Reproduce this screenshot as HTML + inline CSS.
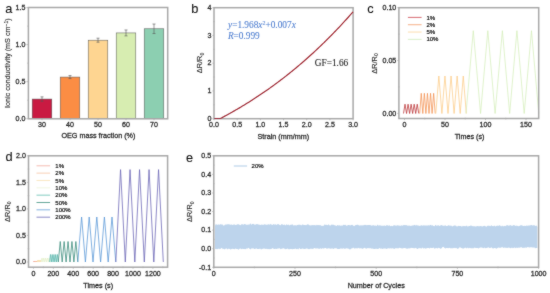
<!DOCTYPE html>
<html><head><meta charset="utf-8"><style>
html,body{margin:0;padding:0;background:#fff;width:550px;height:293px;overflow:hidden}
svg{display:block;will-change:transform}
</style></head><body>
<svg width="550" height="293" viewBox="0 0 550 293">
<defs><filter id="soft" filterUnits="userSpaceOnUse" x="0" y="0" width="550" height="293" color-interpolation-filters="sRGB"><feConvolveMatrix order="3" kernelMatrix="1 2 1 2 24 2 1 2 1" edgeMode="duplicate" preserveAlpha="true"/></filter></defs>
<g filter="url(#soft)">
<rect width="550" height="293" fill="#fff"/>
<text x="5.20" y="12.90" font-size="12.8" text-anchor="start" fill="#111" stroke="#111" stroke-width="0.08" font-family='"Liberation Sans", sans-serif' >a</text>
<text x="191.20" y="13.00" font-size="12.8" text-anchor="start" fill="#111" stroke="#111" stroke-width="0.08" font-family='"Liberation Sans", sans-serif' >b</text>
<text x="367.30" y="13.00" font-size="12.8" text-anchor="start" fill="#111" stroke="#111" stroke-width="0.08" font-family='"Liberation Sans", sans-serif' >c</text>
<text x="5.40" y="161.00" font-size="12.8" text-anchor="start" fill="#111" stroke="#111" stroke-width="0.08" font-family='"Liberation Sans", sans-serif' >d</text>
<text x="186.00" y="161.50" font-size="12.8" text-anchor="start" fill="#111" stroke="#111" stroke-width="0.08" font-family='"Liberation Sans", sans-serif' >e</text>
<rect x="32.20" y="99.07" width="19.60" height="19.63" fill="#C91A42" stroke="#555" stroke-width="0.5"/>
<line x1="42.00" y1="96.85" x2="42.00" y2="101.29" stroke="#555" stroke-width="0.6" />
<line x1="40.50" y1="96.85" x2="43.50" y2="96.85" stroke="#555" stroke-width="0.6" />
<line x1="40.50" y1="101.29" x2="43.50" y2="101.29" stroke="#555" stroke-width="0.6" />
<rect x="60.20" y="77.07" width="19.60" height="41.63" fill="#FB8D44" stroke="#555" stroke-width="0.5"/>
<line x1="70.00" y1="75.59" x2="70.00" y2="78.56" stroke="#555" stroke-width="0.6" />
<line x1="68.50" y1="75.59" x2="71.50" y2="75.59" stroke="#555" stroke-width="0.6" />
<line x1="68.50" y1="78.56" x2="71.50" y2="78.56" stroke="#555" stroke-width="0.6" />
<rect x="88.20" y="40.19" width="19.60" height="78.51" fill="#FED591" stroke="#555" stroke-width="0.5"/>
<line x1="98.00" y1="38.19" x2="98.00" y2="42.19" stroke="#555" stroke-width="0.6" />
<line x1="96.50" y1="38.19" x2="99.50" y2="38.19" stroke="#555" stroke-width="0.6" />
<line x1="96.50" y1="42.19" x2="99.50" y2="42.19" stroke="#555" stroke-width="0.6" />
<rect x="116.20" y="32.93" width="19.60" height="85.77" fill="#D7EDB1" stroke="#555" stroke-width="0.5"/>
<line x1="126.00" y1="29.97" x2="126.00" y2="35.89" stroke="#555" stroke-width="0.6" />
<line x1="124.50" y1="29.97" x2="127.50" y2="29.97" stroke="#555" stroke-width="0.6" />
<line x1="124.50" y1="35.89" x2="127.50" y2="35.89" stroke="#555" stroke-width="0.6" />
<rect x="144.20" y="28.78" width="19.60" height="89.92" fill="#8CCFB1" stroke="#555" stroke-width="0.5"/>
<line x1="154.00" y1="24.04" x2="154.00" y2="33.52" stroke="#555" stroke-width="0.6" />
<line x1="152.50" y1="24.04" x2="155.50" y2="24.04" stroke="#555" stroke-width="0.6" />
<line x1="152.50" y1="33.52" x2="155.50" y2="33.52" stroke="#555" stroke-width="0.6" />
<rect x="28.40" y="7.50" width="139.30" height="111.30" fill="none" stroke="#a8a8a8" stroke-width="1.5"/>
<line x1="26.40" y1="118.70" x2="28.00" y2="118.70" stroke="#a8a8a8" stroke-width="0.7" />
<text x="25.40" y="120.95" font-size="7.1" text-anchor="end" fill="#2c2c2c" stroke="#2c2c2c" stroke-width="0.28" font-family='"Liberation Sans", sans-serif' >0.0</text>
<line x1="26.40" y1="81.67" x2="28.00" y2="81.67" stroke="#a8a8a8" stroke-width="0.7" />
<text x="25.40" y="83.92" font-size="7.1" text-anchor="end" fill="#2c2c2c" stroke="#2c2c2c" stroke-width="0.28" font-family='"Liberation Sans", sans-serif' >0.5</text>
<line x1="26.40" y1="44.63" x2="28.00" y2="44.63" stroke="#a8a8a8" stroke-width="0.7" />
<text x="25.40" y="46.88" font-size="7.1" text-anchor="end" fill="#2c2c2c" stroke="#2c2c2c" stroke-width="0.28" font-family='"Liberation Sans", sans-serif' >1.0</text>
<line x1="26.40" y1="7.60" x2="28.00" y2="7.60" stroke="#a8a8a8" stroke-width="0.7" />
<text x="25.40" y="9.85" font-size="7.1" text-anchor="end" fill="#2c2c2c" stroke="#2c2c2c" stroke-width="0.28" font-family='"Liberation Sans", sans-serif' >1.5</text>
<line x1="27.20" y1="100.18" x2="28.80" y2="100.18" stroke="#a8a8a8" stroke-width="0.6" />
<line x1="27.20" y1="63.15" x2="28.80" y2="63.15" stroke="#a8a8a8" stroke-width="0.6" />
<line x1="27.20" y1="26.12" x2="28.80" y2="26.12" stroke="#a8a8a8" stroke-width="0.6" />
<line x1="42.00" y1="118.70" x2="42.00" y2="120.30" stroke="#a8a8a8" stroke-width="0.7" />
<text x="42.00" y="127.40" font-size="7.1" text-anchor="middle" fill="#2c2c2c" stroke="#2c2c2c" stroke-width="0.28" font-family='"Liberation Sans", sans-serif' >30</text>
<line x1="70.00" y1="118.70" x2="70.00" y2="120.30" stroke="#a8a8a8" stroke-width="0.7" />
<text x="70.00" y="127.40" font-size="7.1" text-anchor="middle" fill="#2c2c2c" stroke="#2c2c2c" stroke-width="0.28" font-family='"Liberation Sans", sans-serif' >40</text>
<line x1="98.00" y1="118.70" x2="98.00" y2="120.30" stroke="#a8a8a8" stroke-width="0.7" />
<text x="98.00" y="127.40" font-size="7.1" text-anchor="middle" fill="#2c2c2c" stroke="#2c2c2c" stroke-width="0.28" font-family='"Liberation Sans", sans-serif' >50</text>
<line x1="126.00" y1="118.70" x2="126.00" y2="120.30" stroke="#a8a8a8" stroke-width="0.7" />
<text x="126.00" y="127.40" font-size="7.1" text-anchor="middle" fill="#2c2c2c" stroke="#2c2c2c" stroke-width="0.28" font-family='"Liberation Sans", sans-serif' >60</text>
<line x1="154.00" y1="118.70" x2="154.00" y2="120.30" stroke="#a8a8a8" stroke-width="0.7" />
<text x="154.00" y="127.40" font-size="7.1" text-anchor="middle" fill="#2c2c2c" stroke="#2c2c2c" stroke-width="0.28" font-family='"Liberation Sans", sans-serif' >70</text>
<text x="98.40" y="138.20" font-size="7.2" text-anchor="middle" fill="#2c2c2c" stroke="#2c2c2c" stroke-width="0.28" font-family='"Liberation Sans", sans-serif' >OEG mass fraction (%)</text>
<text transform="translate(10.40,63.20) rotate(-90)" font-size="7.2" text-anchor="middle" fill="#2c2c2c" stroke="#2c2c2c" stroke-width="0.15" font-family='"Liberation Sans", sans-serif'>Ionic conductivity (mS cm<tspan dy="-2.6" font-size="5">−1</tspan><tspan dy="2.6">)</tspan></text>
<rect x="214.00" y="7.70" width="139.10" height="111.00" fill="none" stroke="#a8a8a8" stroke-width="1.5"/>
<polyline points="214.30,118.50 218.60,118.50 219.20,118.50 220.32,118.50 221.45,117.96 222.57,117.36 223.70,116.76 224.82,116.15 225.95,115.54 227.07,114.93 228.19,114.31 229.32,113.68 230.44,113.05 231.57,112.42 232.69,111.78 233.82,111.14 234.94,110.50 236.07,109.85 237.19,109.19 238.31,108.53 239.44,107.87 240.56,107.20 241.69,106.53 242.81,105.85 243.94,105.17 245.06,104.48 246.18,103.79 247.31,103.09 248.43,102.39 249.56,101.68 250.68,100.97 251.81,100.26 252.93,99.54 254.06,98.81 255.18,98.08 256.30,97.35 257.43,96.60 258.55,95.86 259.68,95.11 260.80,94.35 261.93,93.59 263.05,92.82 264.17,92.05 265.30,91.28 266.42,90.49 267.55,89.71 268.67,88.91 269.80,88.12 270.92,87.31 272.05,86.50 273.17,85.69 274.29,84.87 275.42,84.04 276.54,83.21 277.67,82.38 278.79,81.53 279.92,80.68 281.04,79.83 282.16,78.97 283.29,78.11 284.41,77.23 285.54,76.36 286.66,75.48 287.79,74.59 288.91,73.69 290.04,72.79 291.16,71.89 292.28,70.97 293.41,70.05 294.53,69.13 295.66,68.20 296.78,67.26 297.91,66.32 299.03,65.37 300.15,64.41 301.28,63.45 302.40,62.48 303.53,61.51 304.65,60.53 305.78,59.54 306.90,58.55 308.03,57.55 309.15,56.54 310.27,55.53 311.40,54.51 312.52,53.48 313.65,52.45 314.77,51.41 315.90,50.36 317.02,49.31 318.14,48.25 319.27,47.18 320.39,46.11 321.52,45.03 322.64,43.94 323.77,42.85 324.89,41.75 326.02,40.64 327.14,39.53 328.26,38.41 329.39,37.28 330.51,36.14 331.64,35.00 332.76,33.85 333.89,32.69 335.01,31.53 336.13,30.35 337.26,29.18 338.38,27.99 339.51,26.80 340.63,25.59 341.76,24.39 342.88,23.17 344.01,21.95 345.13,20.72 346.25,19.48 347.38,18.23 348.50,16.98 349.63,15.72 350.75,14.45 351.88,13.17 353.00,11.89" fill="none" stroke="#B02C2C" stroke-width="1.2" stroke-linejoin="round" />
<polyline points="214.30,118.50 218.60,118.50 219.20,118.50 220.32,118.50 221.45,117.96 222.57,117.36 223.70,116.76 224.82,116.15 225.95,115.54 227.07,114.93 228.19,114.31 229.32,113.68 230.44,113.05 231.57,112.42 232.69,111.78 233.82,111.14 234.94,110.50 236.07,109.85 237.19,109.19 238.31,108.53 239.44,107.87 240.56,107.20 241.69,106.53 242.81,105.85 243.94,105.17 245.06,104.48 246.18,103.79 247.31,103.09 248.43,102.39 249.56,101.68 250.68,100.97 251.81,100.26 252.93,99.54 254.06,98.81 255.18,98.08 256.30,97.35 257.43,96.60 258.55,95.86 259.68,95.11 260.80,94.35 261.93,93.59 263.05,92.82 264.17,92.05 265.30,91.28 266.42,90.49 267.55,89.71 268.67,88.91 269.80,88.12 270.92,87.31 272.05,86.50 273.17,85.69 274.29,84.87 275.42,84.04 276.54,83.21 277.67,82.38 278.79,81.53 279.92,80.68 281.04,79.83 282.16,78.97 283.29,78.11 284.41,77.23 285.54,76.36 286.66,75.48 287.79,74.59 288.91,73.69 290.04,72.79 291.16,71.89 292.28,70.97 293.41,70.05 294.53,69.13 295.66,68.20 296.78,67.26 297.91,66.32 299.03,65.37 300.15,64.41 301.28,63.45 302.40,62.48 303.53,61.51 304.65,60.53 305.78,59.54 306.90,58.55 308.03,57.55 309.15,56.54 310.27,55.53 311.40,54.51 312.52,53.48 313.65,52.45 314.77,51.41 315.90,50.36 317.02,49.31 318.14,48.25 319.27,47.18 320.39,46.11 321.52,45.03 322.64,43.94 323.77,42.85 324.89,41.75 326.02,40.64 327.14,39.53 328.26,38.41 329.39,37.28 330.51,36.14 331.64,35.00 332.76,33.85 333.89,32.69 335.01,31.53 336.13,30.35 337.26,29.18 338.38,27.99 339.51,26.80 340.63,25.59 341.76,24.39 342.88,23.17 344.01,21.95 345.13,20.72 346.25,19.48 347.38,18.23 348.50,16.98 349.63,15.72 350.75,14.45 351.88,13.17 353.00,11.89" fill="none" stroke="#3C3C90" stroke-width="0.6" stroke-linejoin="round" stroke-dasharray="0.9 1.6" opacity="0.85"/>
<line x1="212.40" y1="118.70" x2="214.00" y2="118.70" stroke="#a8a8a8" stroke-width="0.7" />
<text x="211.40" y="120.95" font-size="7.1" text-anchor="end" fill="#2c2c2c" stroke="#2c2c2c" stroke-width="0.28" font-family='"Liberation Sans", sans-serif' >0</text>
<line x1="212.40" y1="90.95" x2="214.00" y2="90.95" stroke="#a8a8a8" stroke-width="0.7" />
<text x="211.40" y="93.20" font-size="7.1" text-anchor="end" fill="#2c2c2c" stroke="#2c2c2c" stroke-width="0.28" font-family='"Liberation Sans", sans-serif' >1</text>
<line x1="212.40" y1="63.20" x2="214.00" y2="63.20" stroke="#a8a8a8" stroke-width="0.7" />
<text x="211.40" y="65.45" font-size="7.1" text-anchor="end" fill="#2c2c2c" stroke="#2c2c2c" stroke-width="0.28" font-family='"Liberation Sans", sans-serif' >2</text>
<line x1="212.40" y1="35.45" x2="214.00" y2="35.45" stroke="#a8a8a8" stroke-width="0.7" />
<text x="211.40" y="37.70" font-size="7.1" text-anchor="end" fill="#2c2c2c" stroke="#2c2c2c" stroke-width="0.28" font-family='"Liberation Sans", sans-serif' >3</text>
<line x1="212.40" y1="7.70" x2="214.00" y2="7.70" stroke="#a8a8a8" stroke-width="0.7" />
<text x="211.40" y="9.95" font-size="7.1" text-anchor="end" fill="#2c2c2c" stroke="#2c2c2c" stroke-width="0.28" font-family='"Liberation Sans", sans-serif' >4</text>
<line x1="213.20" y1="104.83" x2="214.80" y2="104.83" stroke="#a8a8a8" stroke-width="0.6" />
<line x1="213.20" y1="77.08" x2="214.80" y2="77.08" stroke="#a8a8a8" stroke-width="0.6" />
<line x1="213.20" y1="49.33" x2="214.80" y2="49.33" stroke="#a8a8a8" stroke-width="0.6" />
<line x1="213.20" y1="21.58" x2="214.80" y2="21.58" stroke="#a8a8a8" stroke-width="0.6" />
<line x1="214.00" y1="118.70" x2="214.00" y2="120.30" stroke="#a8a8a8" stroke-width="0.7" />
<text x="214.00" y="127.40" font-size="7.1" text-anchor="middle" fill="#2c2c2c" stroke="#2c2c2c" stroke-width="0.28" font-family='"Liberation Sans", sans-serif' >0.0</text>
<line x1="237.18" y1="118.70" x2="237.18" y2="120.30" stroke="#a8a8a8" stroke-width="0.7" />
<text x="237.18" y="127.40" font-size="7.1" text-anchor="middle" fill="#2c2c2c" stroke="#2c2c2c" stroke-width="0.28" font-family='"Liberation Sans", sans-serif' >0.5</text>
<line x1="260.37" y1="118.70" x2="260.37" y2="120.30" stroke="#a8a8a8" stroke-width="0.7" />
<text x="260.37" y="127.40" font-size="7.1" text-anchor="middle" fill="#2c2c2c" stroke="#2c2c2c" stroke-width="0.28" font-family='"Liberation Sans", sans-serif' >1.0</text>
<line x1="283.55" y1="118.70" x2="283.55" y2="120.30" stroke="#a8a8a8" stroke-width="0.7" />
<text x="283.55" y="127.40" font-size="7.1" text-anchor="middle" fill="#2c2c2c" stroke="#2c2c2c" stroke-width="0.28" font-family='"Liberation Sans", sans-serif' >1.5</text>
<line x1="306.73" y1="118.70" x2="306.73" y2="120.30" stroke="#a8a8a8" stroke-width="0.7" />
<text x="306.73" y="127.40" font-size="7.1" text-anchor="middle" fill="#2c2c2c" stroke="#2c2c2c" stroke-width="0.28" font-family='"Liberation Sans", sans-serif' >2.0</text>
<line x1="329.92" y1="118.70" x2="329.92" y2="120.30" stroke="#a8a8a8" stroke-width="0.7" />
<text x="329.92" y="127.40" font-size="7.1" text-anchor="middle" fill="#2c2c2c" stroke="#2c2c2c" stroke-width="0.28" font-family='"Liberation Sans", sans-serif' >2.5</text>
<line x1="353.10" y1="118.70" x2="353.10" y2="120.30" stroke="#a8a8a8" stroke-width="0.7" />
<text x="353.10" y="127.40" font-size="7.1" text-anchor="middle" fill="#2c2c2c" stroke="#2c2c2c" stroke-width="0.28" font-family='"Liberation Sans", sans-serif' >3.0</text>
<text x="283.30" y="138.60" font-size="7.2" text-anchor="middle" fill="#2c2c2c" stroke="#2c2c2c" stroke-width="0.28" font-family='"Liberation Sans", sans-serif' >Strain (mm/mm)</text>
<text transform="translate(202.20,63.00) rotate(-90)" font-size="7.4" text-anchor="middle" fill="#2c2c2c" stroke="#2c2c2c" stroke-width="0.15" font-family='"Liberation Sans", sans-serif'>ΔR/R<tspan dy="1.6" font-size="5">0</tspan></text>
<text x="228.00" y="28.00" font-size="9.3" text-anchor="start" fill="#4F7FD0" stroke="#4F7FD0" stroke-width="0.08" font-family='"Liberation Serif", serif' ><tspan font-style="italic">y</tspan>=1.968<tspan font-style="italic">x</tspan><tspan dy="-3.4" font-size="6">2</tspan><tspan dy="3.4">+0.007</tspan><tspan font-style="italic">x</tspan></text>
<text x="227.90" y="38.60" font-size="9.3" text-anchor="start" fill="#4F7FD0" stroke="#4F7FD0" stroke-width="0.08" font-family='"Liberation Serif", serif' ><tspan font-style="italic">R</tspan>=0.999</text>
<text x="314.80" y="66.30" font-size="9.3" text-anchor="start" fill="#1a1a1a" stroke="#1a1a1a" stroke-width="0.08" font-family='"Liberation Serif", serif' >GF=1.66</text>
<polyline points="403.50,113.50 405.02,104.20 406.55,113.50 408.07,104.20 409.60,113.50 411.12,104.20 412.65,113.50 414.18,104.20 415.70,113.50 417.23,104.20 418.75,113.50" fill="none" stroke="#BC3A3C" stroke-width="0.8" stroke-linejoin="round" />
<polyline points="419.70,113.50 421.25,93.30 422.80,113.50 424.35,93.30 425.90,113.50 427.45,93.30 429.00,113.50 430.55,93.30 432.10,113.50 433.65,93.30 435.20,113.50" fill="none" stroke="#F39050" stroke-width="0.75" stroke-linejoin="round" />
<polyline points="435.80,113.50 438.85,76.00 441.90,113.50 444.95,76.00 448.00,113.50 451.05,76.00 454.10,113.50 457.15,76.00 460.20,113.50 463.25,76.00 466.30,113.50" fill="none" stroke="#FCCB86" stroke-width="0.75" stroke-linejoin="round" />
<polyline points="466.00,113.50 473.27,30.70 480.55,113.50 487.82,30.70 495.10,113.50 502.38,30.70 509.65,113.50 516.92,30.70 524.20,113.50 531.48,30.70 538.75,113.50" fill="none" stroke="#D4EDBA" stroke-width="0.75" stroke-linejoin="round" />
<rect x="398.90" y="7.70" width="139.80" height="110.80" fill="none" stroke="#a8a8a8" stroke-width="1.5"/>
<line x1="397.30" y1="113.40" x2="398.90" y2="113.40" stroke="#a8a8a8" stroke-width="0.7" />
<text x="396.30" y="115.65" font-size="7.1" text-anchor="end" fill="#2c2c2c" stroke="#2c2c2c" stroke-width="0.28" font-family='"Liberation Sans", sans-serif' >0.00</text>
<line x1="397.30" y1="60.55" x2="398.90" y2="60.55" stroke="#a8a8a8" stroke-width="0.7" />
<text x="396.30" y="62.80" font-size="7.1" text-anchor="end" fill="#2c2c2c" stroke="#2c2c2c" stroke-width="0.28" font-family='"Liberation Sans", sans-serif' >0.05</text>
<line x1="397.30" y1="7.70" x2="398.90" y2="7.70" stroke="#a8a8a8" stroke-width="0.7" />
<text x="396.30" y="9.95" font-size="7.1" text-anchor="end" fill="#2c2c2c" stroke="#2c2c2c" stroke-width="0.28" font-family='"Liberation Sans", sans-serif' >0.10</text>
<line x1="398.10" y1="86.98" x2="399.70" y2="86.98" stroke="#a8a8a8" stroke-width="0.6" />
<line x1="398.10" y1="34.13" x2="399.70" y2="34.13" stroke="#a8a8a8" stroke-width="0.6" />
<line x1="404.50" y1="118.50" x2="404.50" y2="120.10" stroke="#a8a8a8" stroke-width="0.7" />
<text x="404.50" y="127.20" font-size="7.1" text-anchor="middle" fill="#2c2c2c" stroke="#2c2c2c" stroke-width="0.28" font-family='"Liberation Sans", sans-serif' >0</text>
<line x1="445.00" y1="118.50" x2="445.00" y2="120.10" stroke="#a8a8a8" stroke-width="0.7" />
<text x="445.00" y="127.20" font-size="7.1" text-anchor="middle" fill="#2c2c2c" stroke="#2c2c2c" stroke-width="0.28" font-family='"Liberation Sans", sans-serif' >50</text>
<line x1="485.50" y1="118.50" x2="485.50" y2="120.10" stroke="#a8a8a8" stroke-width="0.7" />
<text x="485.50" y="127.20" font-size="7.1" text-anchor="middle" fill="#2c2c2c" stroke="#2c2c2c" stroke-width="0.28" font-family='"Liberation Sans", sans-serif' >100</text>
<line x1="526.00" y1="118.50" x2="526.00" y2="120.10" stroke="#a8a8a8" stroke-width="0.7" />
<text x="526.00" y="127.20" font-size="7.1" text-anchor="middle" fill="#2c2c2c" stroke="#2c2c2c" stroke-width="0.28" font-family='"Liberation Sans", sans-serif' >150</text>
<line x1="424.75" y1="117.70" x2="424.75" y2="119.50" stroke="#a8a8a8" stroke-width="0.6" />
<line x1="465.25" y1="117.70" x2="465.25" y2="119.50" stroke="#a8a8a8" stroke-width="0.6" />
<line x1="505.75" y1="117.70" x2="505.75" y2="119.50" stroke="#a8a8a8" stroke-width="0.6" />
<text x="469.60" y="138.60" font-size="7.2" text-anchor="middle" fill="#2c2c2c" stroke="#2c2c2c" stroke-width="0.28" font-family='"Liberation Sans", sans-serif' >Times (s)</text>
<text transform="translate(376.60,63.50) rotate(-90)" font-size="7.4" text-anchor="middle" fill="#2c2c2c" stroke="#2c2c2c" stroke-width="0.15" font-family='"Liberation Sans", sans-serif'>ΔR/R<tspan dy="1.6" font-size="5">0</tspan></text>
<line x1="407.90" y1="17.40" x2="421.60" y2="17.40" stroke="#D05058" stroke-width="0.85" />
<text x="426.40" y="19.50" font-size="6.0" text-anchor="start" fill="#111" stroke="#111" stroke-width="0.2" font-family='"Liberation Sans", sans-serif' >1%</text>
<line x1="407.90" y1="24.73" x2="421.60" y2="24.73" stroke="#F4A070" stroke-width="0.85" />
<text x="426.40" y="26.83" font-size="6.0" text-anchor="start" fill="#111" stroke="#111" stroke-width="0.2" font-family='"Liberation Sans", sans-serif' >2%</text>
<line x1="407.90" y1="32.06" x2="421.60" y2="32.06" stroke="#FCD8A0" stroke-width="0.85" />
<text x="426.40" y="34.16" font-size="6.0" text-anchor="start" fill="#111" stroke="#111" stroke-width="0.2" font-family='"Liberation Sans", sans-serif' >5%</text>
<line x1="407.90" y1="39.39" x2="421.60" y2="39.39" stroke="#D2ECC0" stroke-width="0.85" />
<text x="426.40" y="41.49" font-size="6.0" text-anchor="start" fill="#111" stroke="#111" stroke-width="0.2" font-family='"Liberation Sans", sans-serif' >10%</text>
<polyline points="33.40,262.00 33.60,261.60 33.80,262.00 34.00,261.60 34.20,262.00 34.40,261.60 34.60,262.00 34.80,261.60 35.00,262.00 35.20,261.60 35.40,262.00" fill="none" stroke="#F0A090" stroke-width="0.8" stroke-linejoin="round" />
<polyline points="35.40,262.00 35.60,261.00 35.80,262.00 36.00,261.00 36.20,262.00 36.40,261.00 36.60,262.00 36.80,261.00 37.00,262.00 37.20,261.00 37.40,262.00" fill="none" stroke="#F6BE9C" stroke-width="0.8" stroke-linejoin="round" />
<polyline points="37.40,262.00 37.77,260.20 38.14,262.00 38.51,260.20 38.88,262.00 39.25,260.20 39.62,262.00 39.99,260.20 40.36,262.00 40.73,260.20 41.10,262.00" fill="none" stroke="#F8DEB0" stroke-width="0.8" stroke-linejoin="round" />
<polyline points="41.10,262.00 42.00,258.00 42.90,262.00 43.80,258.00 44.70,262.00 45.60,258.00 46.50,262.00 47.40,258.00 48.30,262.00 49.20,258.00 50.10,262.00" fill="none" stroke="#E4F0CC" stroke-width="0.8" stroke-linejoin="round" />
<polyline points="49.60,262.00 50.47,254.50 51.34,262.00 52.21,254.50 53.08,262.00 53.95,254.50 54.82,262.00 55.69,254.50 56.56,262.00 57.43,254.50 58.30,262.00" fill="none" stroke="#5FBAB0" stroke-width="0.8" stroke-linejoin="round" />
<polyline points="58.30,262.00 60.25,241.50 62.20,262.00 64.15,241.50 66.10,262.00 68.05,241.50 70.00,262.00 71.95,241.50 73.90,262.00 75.85,241.50 77.80,262.00" fill="none" stroke="#3E8E7E" stroke-width="0.8" stroke-linejoin="round" />
<polyline points="77.80,262.00 81.60,217.00 85.40,262.00 89.20,217.00 93.00,262.00 96.80,217.00 100.60,262.00 104.40,217.00 108.20,262.00 112.00,217.00 115.80,262.00" fill="none" stroke="#5E9AD8" stroke-width="0.8" stroke-linejoin="round" />
<polyline points="115.80,262.00 120.55,169.60 125.30,262.00 130.05,169.60 134.80,262.00 139.55,169.60 144.30,262.00 149.05,169.60 153.80,262.00 158.55,169.60 163.30,262.00" fill="none" stroke="#6E6AB8" stroke-width="0.8" stroke-linejoin="round" />
<rect x="28.50" y="155.80" width="139.10" height="111.40" fill="none" stroke="#a8a8a8" stroke-width="1.5"/>
<line x1="26.90" y1="262.00" x2="28.50" y2="262.00" stroke="#a8a8a8" stroke-width="0.7" />
<text x="25.90" y="264.25" font-size="7.1" text-anchor="end" fill="#2c2c2c" stroke="#2c2c2c" stroke-width="0.28" font-family='"Liberation Sans", sans-serif' >0.0</text>
<line x1="26.90" y1="235.45" x2="28.50" y2="235.45" stroke="#a8a8a8" stroke-width="0.7" />
<text x="25.90" y="237.70" font-size="7.1" text-anchor="end" fill="#2c2c2c" stroke="#2c2c2c" stroke-width="0.28" font-family='"Liberation Sans", sans-serif' >0.5</text>
<line x1="26.90" y1="208.90" x2="28.50" y2="208.90" stroke="#a8a8a8" stroke-width="0.7" />
<text x="25.90" y="211.15" font-size="7.1" text-anchor="end" fill="#2c2c2c" stroke="#2c2c2c" stroke-width="0.28" font-family='"Liberation Sans", sans-serif' >1.0</text>
<line x1="26.90" y1="182.35" x2="28.50" y2="182.35" stroke="#a8a8a8" stroke-width="0.7" />
<text x="25.90" y="184.60" font-size="7.1" text-anchor="end" fill="#2c2c2c" stroke="#2c2c2c" stroke-width="0.28" font-family='"Liberation Sans", sans-serif' >1.5</text>
<line x1="26.90" y1="155.80" x2="28.50" y2="155.80" stroke="#a8a8a8" stroke-width="0.7" />
<text x="25.90" y="158.05" font-size="7.1" text-anchor="end" fill="#2c2c2c" stroke="#2c2c2c" stroke-width="0.28" font-family='"Liberation Sans", sans-serif' >2.0</text>
<line x1="27.70" y1="248.72" x2="29.30" y2="248.72" stroke="#a8a8a8" stroke-width="0.6" />
<line x1="27.70" y1="222.18" x2="29.30" y2="222.18" stroke="#a8a8a8" stroke-width="0.6" />
<line x1="27.70" y1="195.62" x2="29.30" y2="195.62" stroke="#a8a8a8" stroke-width="0.6" />
<line x1="27.70" y1="169.08" x2="29.30" y2="169.08" stroke="#a8a8a8" stroke-width="0.6" />
<line x1="33.40" y1="267.20" x2="33.40" y2="268.80" stroke="#a8a8a8" stroke-width="0.7" />
<text x="33.40" y="275.90" font-size="7.1" text-anchor="middle" fill="#2c2c2c" stroke="#2c2c2c" stroke-width="0.28" font-family='"Liberation Sans", sans-serif' >0</text>
<line x1="53.32" y1="267.20" x2="53.32" y2="268.80" stroke="#a8a8a8" stroke-width="0.7" />
<text x="53.32" y="275.90" font-size="7.1" text-anchor="middle" fill="#2c2c2c" stroke="#2c2c2c" stroke-width="0.28" font-family='"Liberation Sans", sans-serif' >200</text>
<line x1="73.24" y1="267.20" x2="73.24" y2="268.80" stroke="#a8a8a8" stroke-width="0.7" />
<text x="73.24" y="275.90" font-size="7.1" text-anchor="middle" fill="#2c2c2c" stroke="#2c2c2c" stroke-width="0.28" font-family='"Liberation Sans", sans-serif' >400</text>
<line x1="93.16" y1="267.20" x2="93.16" y2="268.80" stroke="#a8a8a8" stroke-width="0.7" />
<text x="93.16" y="275.90" font-size="7.1" text-anchor="middle" fill="#2c2c2c" stroke="#2c2c2c" stroke-width="0.28" font-family='"Liberation Sans", sans-serif' >600</text>
<line x1="113.08" y1="267.20" x2="113.08" y2="268.80" stroke="#a8a8a8" stroke-width="0.7" />
<text x="113.08" y="275.90" font-size="7.1" text-anchor="middle" fill="#2c2c2c" stroke="#2c2c2c" stroke-width="0.28" font-family='"Liberation Sans", sans-serif' >800</text>
<line x1="133.00" y1="267.20" x2="133.00" y2="268.80" stroke="#a8a8a8" stroke-width="0.7" />
<text x="133.00" y="275.90" font-size="7.1" text-anchor="middle" fill="#2c2c2c" stroke="#2c2c2c" stroke-width="0.28" font-family='"Liberation Sans", sans-serif' >1000</text>
<line x1="152.92" y1="267.20" x2="152.92" y2="268.80" stroke="#a8a8a8" stroke-width="0.7" />
<text x="152.92" y="275.90" font-size="7.1" text-anchor="middle" fill="#2c2c2c" stroke="#2c2c2c" stroke-width="0.28" font-family='"Liberation Sans", sans-serif' >1200</text>
<line x1="43.36" y1="266.40" x2="43.36" y2="268.20" stroke="#a8a8a8" stroke-width="0.6" />
<line x1="63.28" y1="266.40" x2="63.28" y2="268.20" stroke="#a8a8a8" stroke-width="0.6" />
<line x1="83.20" y1="266.40" x2="83.20" y2="268.20" stroke="#a8a8a8" stroke-width="0.6" />
<line x1="103.12" y1="266.40" x2="103.12" y2="268.20" stroke="#a8a8a8" stroke-width="0.6" />
<line x1="123.04" y1="266.40" x2="123.04" y2="268.20" stroke="#a8a8a8" stroke-width="0.6" />
<line x1="142.96" y1="266.40" x2="142.96" y2="268.20" stroke="#a8a8a8" stroke-width="0.6" />
<line x1="162.88" y1="266.40" x2="162.88" y2="268.20" stroke="#a8a8a8" stroke-width="0.6" />
<text x="98.20" y="287.50" font-size="7.2" text-anchor="middle" fill="#2c2c2c" stroke="#2c2c2c" stroke-width="0.28" font-family='"Liberation Sans", sans-serif' >Times (s)</text>
<text transform="translate(9.60,211.70) rotate(-90)" font-size="7.4" text-anchor="middle" fill="#2c2c2c" stroke="#2c2c2c" stroke-width="0.15" font-family='"Liberation Sans", sans-serif'>ΔR/R<tspan dy="1.6" font-size="5">0</tspan></text>
<line x1="36.50" y1="165.80" x2="50.10" y2="165.80" stroke="#F2B0A4" stroke-width="0.85" />
<text x="55.30" y="167.90" font-size="6.0" text-anchor="start" fill="#111" stroke="#111" stroke-width="0.2" font-family='"Liberation Sans", sans-serif' >1%</text>
<line x1="36.50" y1="173.14" x2="50.10" y2="173.14" stroke="#F7C8A8" stroke-width="0.85" />
<text x="55.30" y="175.24" font-size="6.0" text-anchor="start" fill="#111" stroke="#111" stroke-width="0.2" font-family='"Liberation Sans", sans-serif' >2%</text>
<line x1="36.50" y1="180.48" x2="50.10" y2="180.48" stroke="#F9E4B8" stroke-width="0.85" />
<text x="55.30" y="182.58" font-size="6.0" text-anchor="start" fill="#111" stroke="#111" stroke-width="0.2" font-family='"Liberation Sans", sans-serif' >5%</text>
<line x1="36.50" y1="187.82" x2="50.10" y2="187.82" stroke="#EDF4DA" stroke-width="0.85" />
<text x="55.30" y="189.92" font-size="6.0" text-anchor="start" fill="#111" stroke="#111" stroke-width="0.2" font-family='"Liberation Sans", sans-serif' >10%</text>
<line x1="36.50" y1="195.16" x2="50.10" y2="195.16" stroke="#6CC2B6" stroke-width="0.85" />
<text x="55.30" y="197.26" font-size="6.0" text-anchor="start" fill="#111" stroke="#111" stroke-width="0.2" font-family='"Liberation Sans", sans-serif' >20%</text>
<line x1="36.50" y1="202.50" x2="50.10" y2="202.50" stroke="#4A9888" stroke-width="0.85" />
<text x="55.30" y="204.60" font-size="6.0" text-anchor="start" fill="#111" stroke="#111" stroke-width="0.2" font-family='"Liberation Sans", sans-serif' >50%</text>
<line x1="36.50" y1="209.84" x2="50.10" y2="209.84" stroke="#6EA4DC" stroke-width="0.85" />
<text x="55.30" y="211.94" font-size="6.0" text-anchor="start" fill="#111" stroke="#111" stroke-width="0.2" font-family='"Liberation Sans", sans-serif' >100%</text>
<line x1="36.50" y1="217.18" x2="50.10" y2="217.18" stroke="#7474BC" stroke-width="0.85" />
<text x="55.30" y="219.28" font-size="6.0" text-anchor="start" fill="#111" stroke="#111" stroke-width="0.2" font-family='"Liberation Sans", sans-serif' >200%</text>
<polygon points="215.00,225.70 215.98,223.84 216.96,225.01 217.94,224.60 218.92,224.62 219.90,224.70 220.88,223.96 221.86,224.66 222.84,224.38 223.82,226.04 224.80,224.78 225.78,224.53 226.76,224.54 227.74,224.37 228.72,224.19 229.70,224.44 230.68,224.77 231.66,224.46 232.64,224.92 233.62,224.44 234.60,224.51 235.58,225.10 236.56,224.68 237.54,224.25 238.52,224.36 239.50,224.63 240.48,225.18 241.46,224.30 242.44,224.31 243.42,224.82 244.40,224.07 245.38,224.31 246.36,224.78 247.34,224.67 248.32,224.48 249.30,224.71 250.28,223.32 251.26,224.86 252.24,224.08 253.22,223.80 254.20,224.58 255.18,224.76 256.16,224.30 257.14,224.06 258.12,224.50 259.10,224.47 260.08,225.06 261.06,224.81 262.04,224.60 263.02,224.98 264.00,224.47 264.98,224.19 265.96,224.81 266.94,224.82 267.92,224.51 268.90,224.30 269.88,224.72 270.86,223.64 271.84,224.92 272.82,224.86 273.80,224.02 274.78,224.71 275.76,224.31 276.74,225.01 277.72,223.91 278.70,224.37 279.68,225.03 280.66,225.22 281.64,223.91 282.62,224.58 283.60,224.93 284.58,224.56 285.56,225.46 286.54,224.36 287.52,224.99 288.50,224.44 289.48,225.43 290.46,224.87 291.44,224.74 292.42,224.22 293.40,225.59 294.38,225.23 295.36,225.24 296.33,225.41 297.31,225.11 298.29,224.72 299.27,224.67 300.25,224.68 301.23,225.55 302.21,224.43 303.19,224.77 304.17,224.89 305.15,225.11 306.13,225.26 307.11,224.53 308.09,224.34 309.07,225.04 310.05,225.53 311.03,225.35 312.01,225.14 312.99,224.93 313.97,225.18 314.95,224.96 315.93,225.39 316.91,224.75 317.89,225.13 318.87,225.03 319.85,225.30 320.83,225.18 321.81,226.11 322.79,225.69 323.77,225.70 324.75,224.29 325.73,224.97 326.71,224.87 327.69,225.33 328.67,224.21 329.65,225.59 330.63,225.55 331.61,224.61 332.59,224.74 333.57,224.82 334.55,225.16 335.53,225.40 336.51,225.97 337.49,225.08 338.47,225.47 339.45,225.23 340.43,225.87 341.41,225.47 342.39,225.72 343.37,224.75 344.35,225.11 345.33,224.86 346.31,225.79 347.29,225.46 348.27,225.08 349.25,225.02 350.23,225.40 351.21,224.93 352.19,224.85 353.17,225.41 354.15,226.21 355.13,225.13 356.11,225.01 357.09,224.77 358.07,224.71 359.05,225.46 360.03,225.59 361.01,225.26 361.99,225.39 362.97,225.31 363.95,225.32 364.93,224.66 365.91,225.09 366.89,225.32 367.87,224.97 368.85,225.10 369.83,224.96 370.81,225.16 371.79,225.64 372.77,225.14 373.75,225.25 374.73,225.64 375.71,225.57 376.69,226.00 377.67,224.49 378.65,225.67 379.63,225.14 380.61,225.39 381.59,225.68 382.57,225.78 383.55,225.76 384.53,225.41 385.51,226.00 386.49,225.25 387.47,225.31 388.45,225.69 389.43,225.15 390.41,226.24 391.39,225.79 392.37,226.26 393.35,225.38 394.33,225.24 395.31,225.46 396.29,225.70 397.27,225.17 398.25,225.56 399.23,225.41 400.21,226.06 401.19,225.16 402.17,225.84 403.15,225.17 404.13,225.05 405.11,225.15 406.09,224.97 407.07,225.50 408.05,225.86 409.03,225.52 410.01,225.71 410.99,226.12 411.97,225.57 412.95,225.55 413.93,225.36 414.91,224.84 415.89,225.79 416.87,224.78 417.85,225.75 418.83,225.49 419.81,225.95 420.79,225.48 421.77,225.19 422.75,225.67 423.73,225.31 424.71,225.47 425.69,225.57 426.67,225.51 427.65,225.50 428.63,225.25 429.61,225.52 430.59,224.75 431.57,225.55 432.55,225.15 433.53,226.08 434.51,226.15 435.49,224.87 436.47,225.72 437.45,225.62 438.43,225.27 439.41,225.91 440.39,225.52 441.37,225.01 442.35,225.62 443.33,225.67 444.31,225.79 445.29,225.26 446.27,226.01 447.25,226.07 448.23,225.32 449.21,225.53 450.19,225.77 451.17,225.59 452.15,226.52 453.13,225.91 454.11,225.44 455.09,225.54 456.07,225.84 457.04,226.79 458.02,225.81 459.00,225.94 459.98,226.11 460.96,225.89 461.94,226.83 462.92,225.72 463.90,226.24 464.88,226.01 465.86,226.21 466.84,225.50 467.82,226.69 468.80,225.94 469.78,226.01 470.76,225.62 471.74,225.70 472.72,226.21 473.70,226.37 474.68,226.27 475.66,226.45 476.64,226.25 477.62,225.97 478.60,226.28 479.58,226.18 480.56,225.90 481.54,226.22 482.52,226.44 483.50,226.01 484.48,225.77 485.46,226.20 486.44,226.66 487.42,225.81 488.40,225.85 489.38,225.83 490.36,226.37 491.34,225.14 492.32,226.02 493.30,226.34 494.28,225.53 495.26,226.45 496.24,226.06 497.22,225.62 498.20,225.92 499.18,225.21 500.16,225.60 501.14,226.55 502.12,225.45 503.10,226.54 504.08,225.77 505.06,226.19 506.04,225.81 507.02,224.89 508.00,225.55 508.98,225.85 509.96,225.30 510.94,225.22 511.92,225.90 512.90,225.49 513.88,225.06 514.86,225.46 515.84,226.07 516.82,225.54 517.80,226.09 518.78,226.32 519.76,225.72 520.74,225.25 521.72,225.18 522.70,225.68 523.68,226.04 524.66,225.79 525.64,225.89 526.62,225.49 527.60,225.78 528.58,225.47 529.56,225.52 530.54,225.13 531.52,225.01 532.50,225.44 533.48,225.18 534.46,225.24 535.44,225.88 536.42,225.57 537.40,226.77 537.40,248.09 536.42,248.01 535.44,248.28 534.46,247.53 533.48,247.57 532.50,247.60 531.52,247.35 530.54,247.30 529.56,247.58 528.58,247.20 527.60,247.09 526.62,247.84 525.64,247.49 524.66,247.68 523.68,247.75 522.70,248.10 521.72,247.35 520.74,247.19 519.76,247.87 518.78,247.50 517.80,248.11 516.82,247.38 515.84,248.32 514.86,247.50 513.88,247.83 512.90,248.28 511.92,247.60 510.94,248.30 509.96,247.96 508.98,247.43 508.00,247.63 507.02,248.11 506.04,247.71 505.06,247.83 504.08,247.52 503.10,248.08 502.12,246.84 501.14,247.73 500.16,247.73 499.18,247.79 498.20,247.44 497.22,248.30 496.24,248.78 495.26,248.01 494.28,247.96 493.30,248.49 492.32,248.31 491.34,247.13 490.36,248.12 489.38,247.95 488.40,247.32 487.42,247.77 486.44,247.98 485.46,248.33 484.48,247.55 483.50,248.18 482.52,247.76 481.54,247.60 480.56,247.61 479.58,247.79 478.60,248.40 477.62,248.03 476.64,247.92 475.66,248.04 474.68,247.53 473.70,248.26 472.72,248.24 471.74,248.22 470.76,248.25 469.78,247.86 468.80,248.39 467.82,247.52 466.84,248.47 465.86,247.65 464.88,247.66 463.90,248.41 462.92,248.40 461.94,248.14 460.96,247.82 459.98,247.13 459.00,247.71 458.02,249.03 457.04,248.53 456.07,247.85 455.09,248.23 454.11,247.79 453.13,248.19 452.15,248.22 451.17,248.36 450.19,248.13 449.21,247.70 448.23,248.30 447.25,247.97 446.27,247.88 445.29,248.50 444.31,247.66 443.33,246.75 442.35,247.20 441.37,248.48 440.39,248.79 439.41,248.07 438.43,247.72 437.45,248.58 436.47,248.11 435.49,248.35 434.51,248.65 433.53,247.45 432.55,247.94 431.57,247.99 430.59,247.80 429.61,248.51 428.63,248.10 427.65,248.01 426.67,248.20 425.69,248.68 424.71,247.99 423.73,248.83 422.75,247.59 421.77,248.50 420.79,248.30 419.81,248.36 418.83,248.10 417.85,248.89 416.87,248.66 415.89,247.73 414.91,248.21 413.93,248.34 412.95,248.12 411.97,248.11 410.99,247.86 410.01,248.42 409.03,248.32 408.05,248.38 407.07,248.83 406.09,248.46 405.11,247.92 404.13,248.07 403.15,248.25 402.17,248.49 401.19,248.26 400.21,248.01 399.23,247.81 398.25,248.56 397.27,248.21 396.29,248.31 395.31,248.14 394.33,249.08 393.35,248.42 392.37,248.31 391.39,248.38 390.41,248.15 389.43,248.45 388.45,248.22 387.47,248.41 386.49,249.01 385.51,248.48 384.53,248.56 383.55,248.39 382.57,249.00 381.59,248.39 380.61,248.71 379.63,247.88 378.65,248.65 377.67,248.91 376.69,248.81 375.71,248.66 374.73,248.94 373.75,249.10 372.77,248.55 371.79,248.73 370.81,248.35 369.83,248.37 368.85,248.30 367.87,247.93 366.89,248.41 365.91,248.67 364.93,247.87 363.95,247.88 362.97,248.86 361.99,248.78 361.01,247.95 360.03,248.51 359.05,248.37 358.07,247.83 357.09,248.78 356.11,248.04 355.13,248.47 354.15,248.56 353.17,247.57 352.19,248.49 351.21,248.45 350.23,249.53 349.25,249.19 348.27,248.45 347.29,248.47 346.31,248.23 345.33,248.80 344.35,248.85 343.37,248.36 342.39,248.86 341.41,248.46 340.43,248.52 339.45,249.05 338.47,248.94 337.49,249.01 336.51,248.34 335.53,248.36 334.55,248.27 333.57,248.98 332.59,248.55 331.61,248.55 330.63,248.76 329.65,248.40 328.67,248.26 327.69,248.42 326.71,248.85 325.73,248.08 324.75,247.97 323.77,248.82 322.79,247.90 321.81,248.93 320.83,248.18 319.85,248.81 318.87,248.66 317.89,248.39 316.91,248.19 315.93,248.68 314.95,248.11 313.97,248.22 312.99,249.06 312.01,248.73 311.03,248.68 310.05,248.70 309.07,249.17 308.09,249.07 307.11,248.61 306.13,248.46 305.15,248.91 304.17,248.98 303.19,248.87 302.21,248.55 301.23,249.09 300.25,248.98 299.27,247.88 298.29,249.51 297.31,248.80 296.33,249.31 295.36,248.40 294.38,249.02 293.40,248.93 292.42,249.18 291.44,249.04 290.46,249.11 289.48,249.30 288.50,249.30 287.52,248.44 286.54,248.92 285.56,249.31 284.58,248.67 283.60,248.21 282.62,248.54 281.64,248.81 280.66,249.29 279.68,248.37 278.70,248.60 277.72,248.56 276.74,248.98 275.76,248.82 274.78,249.07 273.80,248.88 272.82,248.00 271.84,248.74 270.86,249.09 269.88,249.31 268.90,249.00 267.92,249.21 266.94,248.67 265.96,249.12 264.98,248.68 264.00,248.58 263.02,248.74 262.04,248.95 261.06,249.49 260.08,248.54 259.10,249.10 258.12,248.90 257.14,249.07 256.16,248.33 255.18,248.88 254.20,249.04 253.22,248.32 252.24,248.53 251.26,248.54 250.28,249.43 249.30,248.46 248.32,247.80 247.34,248.79 246.36,248.56 245.38,249.29 244.40,248.88 243.42,248.95 242.44,248.68 241.46,249.13 240.48,248.47 239.50,248.71 238.52,249.78 237.54,249.08 236.56,249.09 235.58,248.53 234.60,249.19 233.62,248.90 232.64,248.82 231.66,248.90 230.68,249.44 229.70,248.94 228.72,248.44 227.74,249.49 226.76,248.40 225.78,248.61 224.80,249.47 223.82,248.63 222.84,249.20 221.86,247.66 220.88,248.57 219.90,249.33 218.92,248.61 217.94,249.03 216.96,249.20 215.98,248.64 215.00,249.27" fill="#BDD4EC" stroke="none"/>
<rect x="213.80" y="155.80" width="324.80" height="111.50" fill="none" stroke="#a8a8a8" stroke-width="1.5"/>
<line x1="212.20" y1="267.30" x2="213.80" y2="267.30" stroke="#a8a8a8" stroke-width="0.7" />
<text x="211.20" y="269.55" font-size="7.1" text-anchor="end" fill="#2c2c2c" stroke="#2c2c2c" stroke-width="0.28" font-family='"Liberation Sans", sans-serif' >-0.1</text>
<line x1="212.20" y1="248.72" x2="213.80" y2="248.72" stroke="#a8a8a8" stroke-width="0.7" />
<text x="211.20" y="250.97" font-size="7.1" text-anchor="end" fill="#2c2c2c" stroke="#2c2c2c" stroke-width="0.28" font-family='"Liberation Sans", sans-serif' >0.0</text>
<line x1="212.20" y1="230.13" x2="213.80" y2="230.13" stroke="#a8a8a8" stroke-width="0.7" />
<text x="211.20" y="232.38" font-size="7.1" text-anchor="end" fill="#2c2c2c" stroke="#2c2c2c" stroke-width="0.28" font-family='"Liberation Sans", sans-serif' >0.1</text>
<line x1="212.20" y1="211.55" x2="213.80" y2="211.55" stroke="#a8a8a8" stroke-width="0.7" />
<text x="211.20" y="213.80" font-size="7.1" text-anchor="end" fill="#2c2c2c" stroke="#2c2c2c" stroke-width="0.28" font-family='"Liberation Sans", sans-serif' >0.2</text>
<line x1="212.20" y1="192.97" x2="213.80" y2="192.97" stroke="#a8a8a8" stroke-width="0.7" />
<text x="211.20" y="195.22" font-size="7.1" text-anchor="end" fill="#2c2c2c" stroke="#2c2c2c" stroke-width="0.28" font-family='"Liberation Sans", sans-serif' >0.3</text>
<line x1="212.20" y1="174.38" x2="213.80" y2="174.38" stroke="#a8a8a8" stroke-width="0.7" />
<text x="211.20" y="176.63" font-size="7.1" text-anchor="end" fill="#2c2c2c" stroke="#2c2c2c" stroke-width="0.28" font-family='"Liberation Sans", sans-serif' >0.4</text>
<line x1="212.20" y1="155.80" x2="213.80" y2="155.80" stroke="#a8a8a8" stroke-width="0.7" />
<text x="211.20" y="158.05" font-size="7.1" text-anchor="end" fill="#2c2c2c" stroke="#2c2c2c" stroke-width="0.28" font-family='"Liberation Sans", sans-serif' >0.5</text>
<line x1="213.00" y1="258.01" x2="214.60" y2="258.01" stroke="#a8a8a8" stroke-width="0.6" />
<line x1="213.00" y1="239.43" x2="214.60" y2="239.43" stroke="#a8a8a8" stroke-width="0.6" />
<line x1="213.00" y1="220.84" x2="214.60" y2="220.84" stroke="#a8a8a8" stroke-width="0.6" />
<line x1="213.00" y1="202.26" x2="214.60" y2="202.26" stroke="#a8a8a8" stroke-width="0.6" />
<line x1="213.00" y1="183.68" x2="214.60" y2="183.68" stroke="#a8a8a8" stroke-width="0.6" />
<line x1="213.00" y1="165.09" x2="214.60" y2="165.09" stroke="#a8a8a8" stroke-width="0.6" />
<line x1="213.80" y1="267.30" x2="213.80" y2="268.90" stroke="#a8a8a8" stroke-width="0.7" />
<text x="213.80" y="276.00" font-size="7.1" text-anchor="middle" fill="#2c2c2c" stroke="#2c2c2c" stroke-width="0.28" font-family='"Liberation Sans", sans-serif' >0</text>
<line x1="295.00" y1="267.30" x2="295.00" y2="268.90" stroke="#a8a8a8" stroke-width="0.7" />
<text x="295.00" y="276.00" font-size="7.1" text-anchor="middle" fill="#2c2c2c" stroke="#2c2c2c" stroke-width="0.28" font-family='"Liberation Sans", sans-serif' >250</text>
<line x1="376.20" y1="267.30" x2="376.20" y2="268.90" stroke="#a8a8a8" stroke-width="0.7" />
<text x="376.20" y="276.00" font-size="7.1" text-anchor="middle" fill="#2c2c2c" stroke="#2c2c2c" stroke-width="0.28" font-family='"Liberation Sans", sans-serif' >500</text>
<line x1="457.40" y1="267.30" x2="457.40" y2="268.90" stroke="#a8a8a8" stroke-width="0.7" />
<text x="457.40" y="276.00" font-size="7.1" text-anchor="middle" fill="#2c2c2c" stroke="#2c2c2c" stroke-width="0.28" font-family='"Liberation Sans", sans-serif' >750</text>
<line x1="538.60" y1="267.30" x2="538.60" y2="268.90" stroke="#a8a8a8" stroke-width="0.7" />
<text x="538.60" y="276.00" font-size="7.1" text-anchor="middle" fill="#2c2c2c" stroke="#2c2c2c" stroke-width="0.28" font-family='"Liberation Sans", sans-serif' >1000</text>
<line x1="254.40" y1="266.50" x2="254.40" y2="268.30" stroke="#a8a8a8" stroke-width="0.6" />
<line x1="335.60" y1="266.50" x2="335.60" y2="268.30" stroke="#a8a8a8" stroke-width="0.6" />
<line x1="416.80" y1="266.50" x2="416.80" y2="268.30" stroke="#a8a8a8" stroke-width="0.6" />
<line x1="498.00" y1="266.50" x2="498.00" y2="268.30" stroke="#a8a8a8" stroke-width="0.6" />
<text x="376.20" y="287.60" font-size="7.2" text-anchor="middle" fill="#2c2c2c" stroke="#2c2c2c" stroke-width="0.28" font-family='"Liberation Sans", sans-serif' >Number of Cycles</text>
<text transform="translate(192.20,211.70) rotate(-90)" font-size="7.4" text-anchor="middle" fill="#2c2c2c" stroke="#2c2c2c" stroke-width="0.15" font-family='"Liberation Sans", sans-serif'>ΔR/R<tspan dy="1.6" font-size="5">0</tspan></text>
<line x1="233.80" y1="166.00" x2="247.10" y2="166.00" stroke="#BDD4EC" stroke-width="1.2" />
<text x="251.60" y="168.10" font-size="6.0" text-anchor="start" fill="#111" stroke="#111" stroke-width="0.2" font-family='"Liberation Sans", sans-serif' >20%</text>
</g>
</svg>
</body></html>
